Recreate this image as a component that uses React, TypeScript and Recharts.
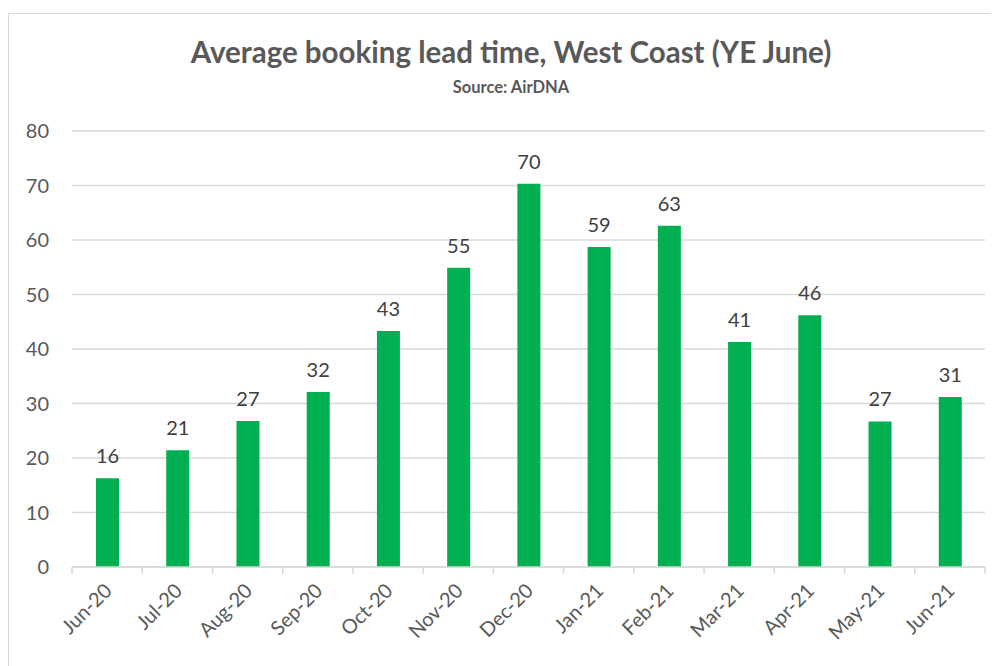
import React from "react";
import { BarChart, Bar, XAxis, YAxis, CartesianGrid, LabelList } from "recharts";

const categories = ["Jun-20", "Jul-20", "Aug-20", "Sep-20", "Oct-20", "Nov-20", "Dec-20", "Jan-21", "Feb-21", "Mar-21", "Apr-21", "May-21", "Jun-21"];
const leadTimes = [16.3, 21.4, 26.8, 32.1, 43.3, 54.9, 70.3, 58.7, 62.6, 41.3, 46.2, 26.7, 31.2];
const yTicks = [0, 10, 20, 30, 40, 50, 60, 70, 80];

const data = categories.map((month, i) => ({ month, value: leadTimes[i] }));

const FONT = "Lato, 'Open Sans', sans-serif";
const TEXT = "#595959";
const GRID = "#d9d9d9";

const XTick = (props: any) => {
  const { x, y, payload, index } = props;
  const off = payload.offset ?? 0;
  const last = index === categories.length - 1;
  return (
    <g>
      <line x1={x - off} x2={x - off} y1={y - 8} y2={y - 1} stroke={GRID} strokeWidth={1.5} />
      {last && <line x1={x + off} x2={x + off} y1={y - 8} y2={y - 1} stroke={GRID} strokeWidth={1.5} />}
      <text
        x={x + 6}
        y={y + 17}
        textAnchor="end"
        fill={TEXT}
        fontSize={20}
        fontFamily={FONT}
        transform={`rotate(-45 ${x + 6} ${y + 17})`}
      >
        {payload.value}
      </text>
    </g>
  );
};

export default function App() {
  return (
    <div
      style={{
        position: "relative",
        marginTop: 5,
        width: 1000,
        height: 680,
        border: `1px solid ${GRID}`,
        background: "#fff",
        fontFamily: FONT,
      }}
    >
      <div
        style={{
          position: "absolute",
          left: 0,
          width: 1004,
          top: 18,
          textAlign: "center",
          color: TEXT,
          fontSize: 29.5,
          fontWeight: 700,
          lineHeight: "40px",
        }}
      >
        Average booking lead time, West Coast (YE June)
      </div>
      <div
        style={{
          position: "absolute",
          left: 0,
          width: 1004,
          top: 62,
          textAlign: "center",
          color: TEXT,
          fontSize: 16.5,
          fontWeight: 700,
          lineHeight: "22px",
        }}
      >
        Source: AirDNA
      </div>
      <BarChart
        width={1000}
        height={660}
        data={data}
        margin={{ top: 117, right: 24, bottom: 0, left: 0 }}
        barCategoryGap="33%"
      >
        <CartesianGrid vertical={false} stroke={GRID} strokeWidth={1.5} />
        <XAxis
          dataKey="month"
          interval={0}
          height={107}
          axisLine={{ stroke: GRID, strokeWidth: 1.5 }}
          tickLine={false}
          tick={<XTick />}
        />
        <YAxis
          domain={[0, 80]}
          ticks={yTicks}
          width={63}
          axisLine={false}
          tickLine={false}
          tickSize={0}
          tickMargin={23}
          tick={{ fill: TEXT, fontSize: 20, fontFamily: FONT }}
        />
        <Bar dataKey="value" fill="#00b050" barSize={23} isAnimationActive={false}>
          <LabelList
            dataKey="value"
            position="top"
            offset={15}
            formatter={(v: any) => Math.round(Number(v))}
            style={{ fill: "#404040", fontSize: 20, fontFamily: FONT }}
          />
        </Bar>
      </BarChart>
    </div>
  );
}
